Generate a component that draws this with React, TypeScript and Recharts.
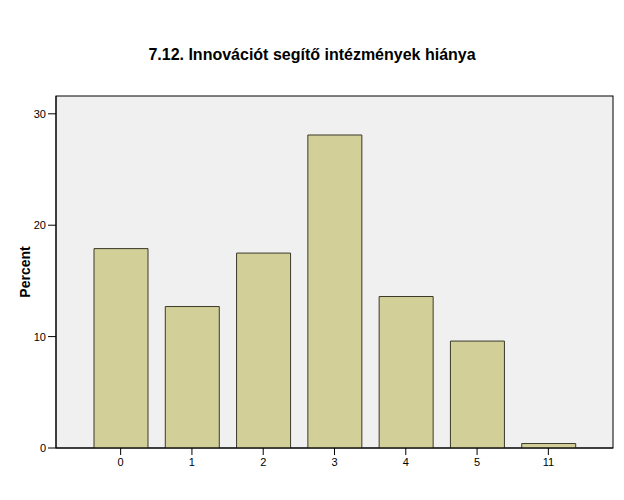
import React from 'react';
import * as Recharts from 'recharts';
import { BarChart, Bar, XAxis, YAxis, CartesianGrid } from 'recharts';

const categories = ['0', '1', '2', '3', '4', '5', '11'];
const percents = [17.9, 12.7, 17.5, 28.1, 13.6, 9.6, 0.4];
const yTicks = [0, 10, 20, 30];
const title = '7.12. Innovációt segítő intézmények hiánya';

const data = categories.map((c, i) => ({ cat: c, value: percents[i] }));

const font = '"Liberation Sans", Arial, sans-serif';

const usePlotAreaHook: any = (Recharts as any).usePlotArea || null;

function Frame() {
  const pa = usePlotAreaHook ? usePlotAreaHook() : null;
  if (!pa) return null;
  return <rect x={pa.x} y={pa.y} width={pa.width} height={pa.height} fill="none" stroke="#000" strokeWidth={1} />;
}

export default function App() {
  return (
    <div style={{ position: 'absolute', left: 0, top: 0, width: 624, height: 500, background: '#fff', fontFamily: font }}>
      <div style={{ position: 'absolute', left: 0, top: 46, width: 624, textAlign: 'center', fontSize: 16, fontWeight: 'bold', color: '#000' }}>
        {title}
      </div>
      <BarChart
        width={624}
        height={500}
        data={data}
        margin={{ top: 96, right: 11, bottom: 0, left: 0 }}
        barSize={54}
      >
        <CartesianGrid horizontal={false} vertical={false} fill="#f0f0f0" />
        <XAxis
          dataKey="cat"
          stroke="#000"
          tickLine={{ stroke: '#000' }}
          tickSize={7}
          tick={{ fill: '#000', fontSize: 11, fontFamily: font, dy: 1 }}
          padding={{ left: 29, right: 29 }}
          height={52}
        />
        <YAxis
          domain={[0, 31.6]}
          ticks={yTicks}
          width={56}
          stroke="#000"
          tickSize={8}
          tick={{ fill: '#000', fontSize: 11, fontFamily: font }}
          allowDataOverflow
          label={{ value: 'Percent', angle: -90, position: 'insideLeft', offset: 25, style: { fontSize: 14, fontWeight: 'bold', fill: '#000', fontFamily: font, textAnchor: 'middle' } }}
        />
        <Bar dataKey="value" fill="#d3cf98" stroke="#3a3a2a" strokeWidth={1} isAnimationActive={false} />
        <Frame />
      </BarChart>
    </div>
  );
}
